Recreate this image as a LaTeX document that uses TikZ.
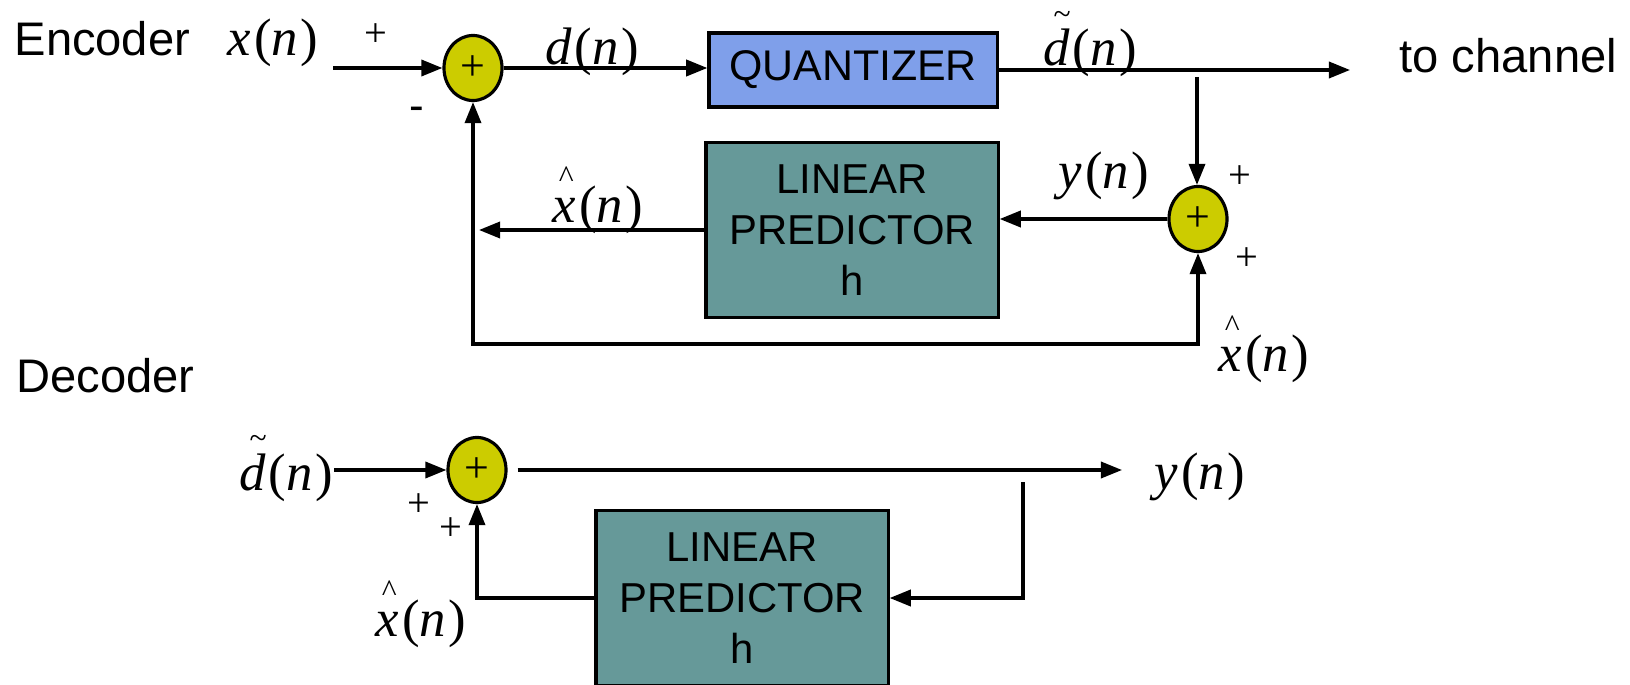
\documentclass[tikz,border=0pt]{standalone}
\usepackage{fontspec}
\setmainfont{Liberation Sans}
\newfontfamily\tms{Liberation Serif}
\usetikzlibrary{shapes.geometric,arrows.meta}
\definecolor{sumfill}{RGB}{204,204,0}
\definecolor{qfill}{RGB}{127,159,234}
\definecolor{lpfill}{RGB}{102,153,153}
\newcommand{\sig}[1]{{\tms\fontsize{15}{18}\selectfont\itshape #1\kern0.06em\upshape(\itshape n\kern0.05em\upshape)}}
\newcommand{\hatx}{\makebox[0pt][l]{\kern0.12em\raisebox{0.66em}{\upshape\fontsize{9}{9}\selectfont\textasciicircum}}x}
\newcommand{\tild}{\makebox[0pt][l]{\kern0.2em\raisebox{0.78em}{\upshape\fontsize{9}{9}\selectfont\textasciitilde}}d}

\begin{document}
\begin{tikzpicture}[x=0.01cm,y=-0.01cm,line width=0.9pt,
	>={Triangle[length=6pt,width=4.6pt]},
	every node/.style={inner sep=0pt},
	sumnode/.style={ellipse,draw,fill=sumfill,minimum width=0.58cm,minimum height=0.65cm,font=\tms\fontsize{12.5}{14}\selectfont},
	block/.style={draw,fill=lpfill,minimum width=2.92cm,minimum height=1.75cm,align=center,font=\fontsize{11.9}{14.6}\selectfont},
	lbl/.style={anchor=base west,font=\fontsize{13.4}{16}\selectfont},
	sgn/.style={font=\tms\fontsize{11.5}{13}\selectfont},
	sig/.style={anchor=base}]
	\useasboundingbox (0,0) rectangle (1630,685);

	\node[lbl] (enc) at (13,56) {Encoder};
	\node[sig] (xin) at (273,56) {\sig{x}};
	\node[sgn] (pin) at (376,35) {+};
	\coordinate (xstart) at (333,68);
	\node[sumnode] (sum1) at (473,68) {+};
	\node[font=\fontsize{12.5}{14}\selectfont] (min) at (417,114) {-};
	\node[sig] (dn) at (592,65) {\sig{d}};
	\node[draw,fill=qfill,minimum width=2.88cm,minimum height=0.74cm,font=\fontsize{12.2}{14}\selectfont] (quant) at (853,70) {QUANTIZER};
	\node[sig] (dq) at (1090,66) {\sig{\tild}};
	\node[lbl] (chan) at (1398,73) {to channel};
	\coordinate (chout) at (1350,70);
	\coordinate (tap1) at (1197,77);
	\node[sumnode] (sum2) at (1198,219) {+};
	\node[sgn] (p2a) at (1240,177) {+};
	\node[sgn] (p2b) at (1247,259) {+};
	\node[sig] (yn1) at (1104,189) {\sig{y}};
	\node[block] (lp1) at (852,230) {LINEAR\\PREDICTOR\\h};
	\node[sig] (xh1) at (598,222) {\sig{\hatx}};
	\node[sig] (xh2) at (1264,371) {\sig{\hatx}};
	\coordinate (fb) at (0,344);

	\draw[->] (xstart) -- (sum1.west);
	\draw[->] (sum1.east) -- (sum1.east -| quant.west);
	\draw[->] (quant.east) -- (chout);
	\draw[->] (tap1) -- (tap1 |- sum2.north);
	\draw[->] (sum2.west) -- (sum2.west -| lp1.east);
	\draw[->] (lp1.west) -- ([xshift=0.06cm]lp1.west -| sum1.south);
	\draw[<->] (sum1.south) -- (sum1.south |- fb) -| (sum2.south);

	\node[lbl] (dec) at (15,393) {Decoder};
	\node[sig] (dtin) at (286,490) {\sig{\tild}};
	\node[sumnode] (sum3) at (477,470) {+};
	\node[sgn] (p3a) at (419,505) {+};
	\node[sgn] (p3b) at (451,529) {+};
	\node[sig] (yout) at (1200,489) {\sig{y}};
	\coordinate (yend) at (1122,470);
	\coordinate (tap2) at (1023,482);
	\node[block] (lp2) at (742,598) {LINEAR\\PREDICTOR\\h};
	\node[sig] (xh3) at (421,636) {\sig{\hatx}};

	\draw[->] (dtin.east |- sum3) -- (sum3.west);
	\draw[->] ([xshift=0.1cm]sum3.east) -- (yend);
	\draw[->] (tap2) -- (tap2 |- lp2.east) -- (lp2.east);
	\draw[->] (lp2.west) -| (sum3.south);
\end{tikzpicture}
\end{document}
